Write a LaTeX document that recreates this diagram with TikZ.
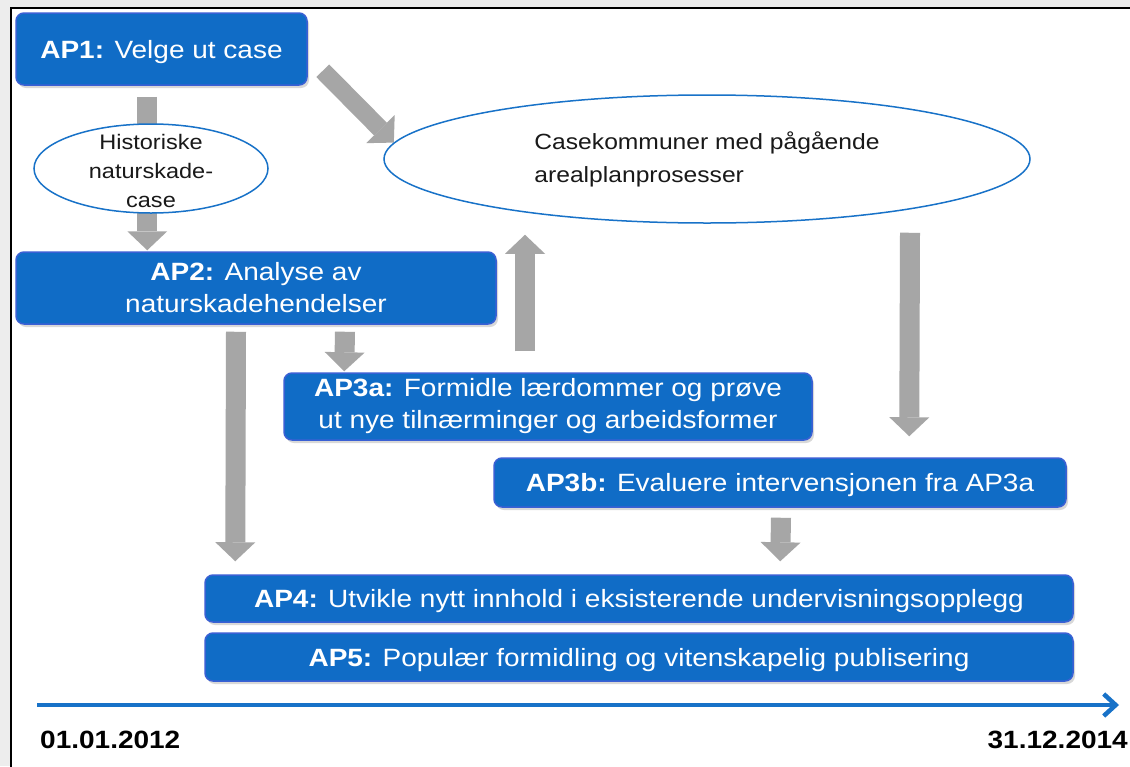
\documentclass[tikz,border=0pt]{standalone}
\usepackage{fontspec}
\setmainfont{Liberation Sans}[FakeStretch=1.12]
\usetikzlibrary{arrows.meta,shapes,shadows}
\definecolor{apblue}{RGB}{16,108,198}
\definecolor{apedge}{RGB}{58,96,212}
\definecolor{elblue}{RGB}{24,114,200}
\definecolor{arrgray}{RGB}{166,166,166}
\pgfdeclarelayer{frame}
\pgfdeclarelayer{arrows}
\pgfsetlayers{frame,arrows,main}

\begin{document}
\begin{tikzpicture}[x=1pt, y=-1pt,
	apbox/.style={rectangle, rounded corners=8pt, fill=apblue, draw=apedge, line width=1.5pt, text=white, align=center, inner sep=0pt, font=\fontsize{25}{32}\selectfont, drop shadow={shadow xshift=2pt, shadow yshift=-3pt, opacity=0.3}},
	apone/.style={apbox, text depth=0pt},
	casebox/.style={ellipse, draw=elblue, line width=1.5pt, fill=white, inner sep=0pt, text=black!90},
	caselbl/.style={align=center, inner sep=0pt, text=black!90, font=\fontsize{21}{29}\selectfont},
	garrow/.style={arrgray, line width=20pt, -{Triangle[length=19pt, width=40pt, line width=0pt]}},
	tline/.style={elblue, line width=4.5pt, -{Straight Barb[length=12pt, width=22pt]}},
	datetxt/.style={inner sep=0pt, font=\fontsize{25}{30}\selectfont\bfseries}]
	\useasboundingbox (0,0) rectangle (1130,766);
	\begin{pgfonlayer}{frame}
		\fill[black!7] (0,0) rectangle (1130,766);
		\draw[fill=white, line width=1.5pt] (11,8) rectangle (1160,800);
	\end{pgfonlayer}

	\node[apone, minimum width=291, minimum height=72] (ap1) at (161.5,49) {\textbf{AP1:} Velge ut case};
	\node[casebox, minimum width=234, minimum height=89, label={[caselbl, yshift=-2pt]center:Historiske\\naturskade-\\case}] (e1) at (151,168.5) {};
	\node[casebox, minimum width=646, minimum height=128, align=left, font=\fontsize{22}{33}\selectfont] (e2) at (707,159) {Casekommuner med pågående\\arealplanprosesser};
	\node[apbox, minimum width=480, minimum height=72] (ap2) at (256,288) {\textbf{AP2:} Analyse av\\naturskadehendelser};
	\node[apbox, minimum width=528, minimum height=67] (ap3a) at (548,406.5) {\textbf{AP3a:} Formidle lærdommer og prøve\\ut nye tilnærminger og arbeidsformer};
	\node[apone, minimum width=572, minimum height=49] (ap3b) at (780,482.5) {\textbf{AP3b:} Evaluere intervensjonen fra AP3a};
	\node[apone, minimum width=868, minimum height=47] (ap4) at (639,598.5) {\textbf{AP4:} Utvikle nytt innhold i eksisterende undervisningsopplegg};
	\node[apone, minimum width=868, minimum height=48] (ap5) at (639,657) {\textbf{AP5:} Populær formidling og vitenskapelig publisering};

	\begin{pgfonlayer}{arrows}
		\draw[garrow] ([shift={(132,11)}]ap1.south west) -- ([shift={(132,-1)}]ap2.north west);
		\draw[garrow, line width=18pt] ([shift={(15,-15)}]ap1.south east) -- (e2.177);
		\draw[garrow] ([shift={(89,7)}]ap2.south) -- ([shift={(61,-1)}]ap3a.north west);
		\draw[garrow] ([shift={(-23,-21)}]ap3a.north) -- ([shift={(-182,11)}]e2.south);
		\draw[garrow] ([shift={(-20,7)}]ap2.south) -- ([shift={(31,-13)}]ap4.north west);
		\draw[garrow] ([shift={(203,9)}]e2.south) -- ([shift={(416,-21)}]ap3b.north west);
		\draw[garrow] ([shift={(1,10)}]ap3b.south) -- ([shift={(576,-13)}]ap4.north west);
	\end{pgfonlayer}

	\coordinate (t0) at (37,705);
	\coordinate (t1) at (1119,705);
	\draw[tline] (t0) -- (t1);
	\node[datetxt, anchor=west] (d0) at (40,740) {01.01.2012};
	\node[datetxt, anchor=east] (d1) at (1128,740) {31.12.2014};
\end{tikzpicture}
\end{document}
